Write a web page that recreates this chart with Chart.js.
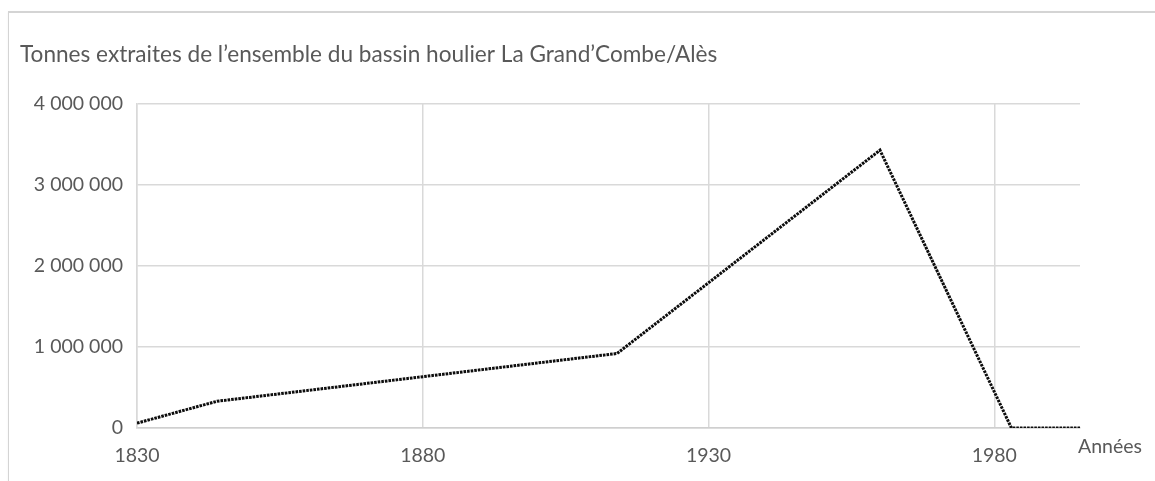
<!DOCTYPE html>
<html lang="fr">
<head>
<meta charset="utf-8">
<title>Bassin houiller La Grand'Combe/Alès</title>
<script src="https://cdn.jsdelivr.net/npm/chart.js@4.4.1/dist/chart.umd.min.js"></script>
<style>
  html, body { margin: 0; padding: 0; background: #fff; overflow: hidden; }
  #frame {
    position: absolute; left: 8px; top: 11px; width: 1200px; height: 520px;
    border: 1px solid #d4d4d4; border-top-width: 2px; box-shadow: 0 1px 2px rgba(0,0,0,0.06);
  }
  #wrap { position: absolute; left: 0; top: 0; width: 1155px; height: 481px; }
</style>
</head>
<body>
<div id="frame"></div>
<div id="wrap"><canvas id="c" width="1155" height="481"></canvas></div>
<script>
// Production du bassin (tonnes extraites par année)
const years  = [1830, 1844, 1914, 1960, 1983, 1995];
const tonnes = [60000, 330000, 920000, 3430000, 0, 0];

// Axes
const yearTicks  = [1830, 1880, 1930, 1980];
const tonneTicks = [0, 1000000, 2000000, 3000000, 4000000];

const titleText = "Tonnes extraites de l\u2019ensemble du bassin houlier La Grand\u2019Combe/Al\u00e8s";
const xAxisLabel = "Ann\u00e9es";

const FONT = "Lato, 'Open Sans', sans-serif";
const TEXT = "#595959";
const GRID = "#d9d9d9";

const fmt = v => String(v).replace(/\B(?=(\d{3})+(?!\d))/g, " ");

// "Années" written just past the right end of the horizontal axis
const axisName = {
  id: "axisName",
  afterDraw(chart) {
    const x = chart.scales.x, ctx = chart.ctx;
    ctx.save();
    ctx.font = "19.5px " + FONT;
    ctx.fillStyle = TEXT;
    ctx.textAlign = "left";
    ctx.textBaseline = "middle";
    ctx.fillText(xAxisLabel, x.right - 2, x.top + 19);
    ctx.restore();
  }
};

new Chart(document.getElementById("c"), {
  type: "line",
  data: {
    datasets: [{
      data: years.map((y, i) => ({ x: y, y: tonnes[i] })),
      borderColor: "#0d0d0d",
      borderWidth: 3,
      borderDash: [2.6, 1],
      pointRadius: 0,
      tension: 0,
      fill: false
    }]
  },
  options: {
    responsive: false,
    animation: false,
    events: [],
    layout: { padding: { left: 20, right: 75, top: 12, bottom: 0 } },
    plugins: {
      legend: { display: false },
      tooltip: { enabled: false },
      title: {
        display: true,
        text: titleText,
        align: "start",
        color: TEXT,
        font: { family: FONT, size: 22.6, weight: "normal" },
        padding: { top: 28.7, bottom: 36.2 }
      }
    },
    scales: {
      x: {
        type: "linear",
        min: 1830,
        max: 1995,
        afterBuildTicks: s => { s.ticks = yearTicks.map(v => ({ value: v })); },
        afterFit: s => { s.height = 53; },
        ticks: {
          color: TEXT,
          padding: 16,
          maxRotation: 0,
          font: { family: FONT, size: 19.5 },
          callback: v => String(v)
        },
        grid: { color: GRID, lineWidth: 1.5, drawTicks: false },
        border: { color: "#cfcfcf", width: 1.5 }
      },
      y: {
        min: 0,
        max: 4000000,
        afterBuildTicks: s => { s.ticks = tonneTicks.map(v => ({ value: v })); },
        afterFit: s => { s.width = 117; },
        ticks: {
          color: TEXT,
          padding: 14,
          font: { family: FONT, size: 19.5 },
          callback: v => fmt(v)
        },
        grid: { color: GRID, lineWidth: 1.5, drawTicks: false },
        border: { color: GRID, width: 1.5 }
      }
    }
  },
  plugins: [axisName]
});
</script>
</body>
</html>
